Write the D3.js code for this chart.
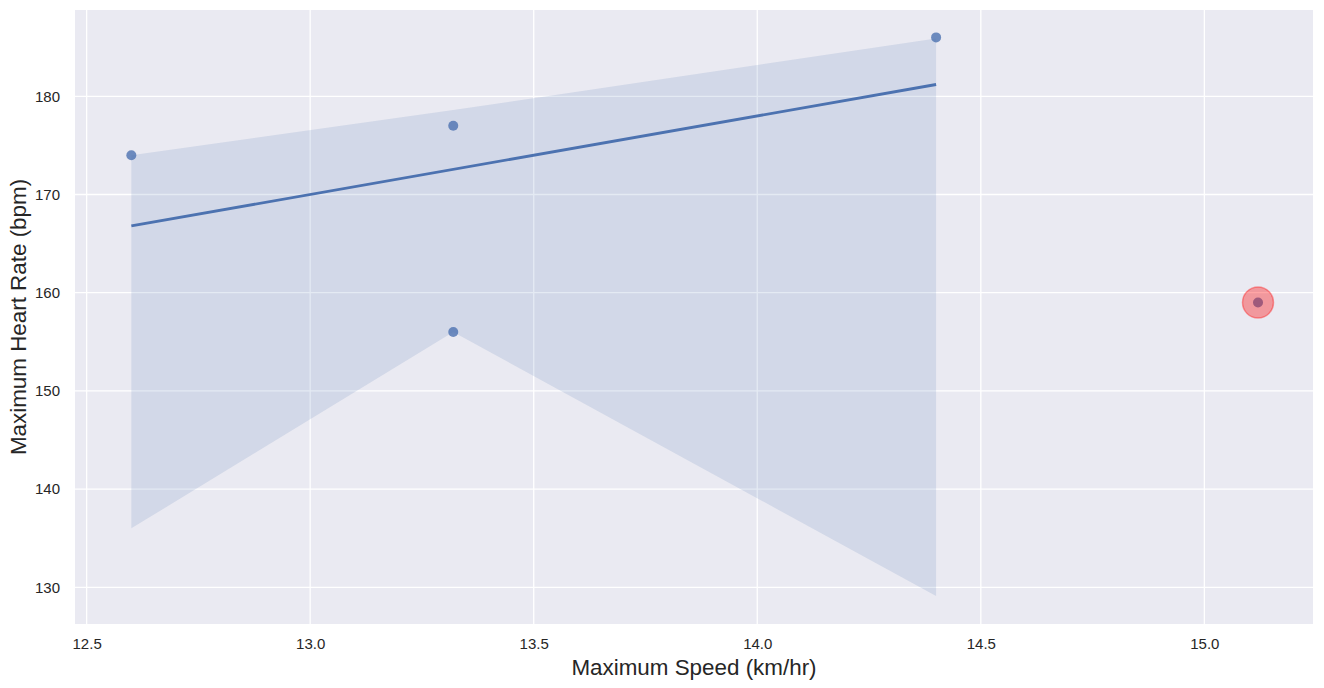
<!DOCTYPE html>
<html>
<head>
<meta charset="utf-8">
<script src="https://cdn.jsdelivr.net/npm/d3@7"></script>
<style>
  body { margin: 0; background: #fff; }
  text { font-family: "Liberation Sans", Arial, sans-serif; fill: #262626; }
</style>
</head>
<body>
<svg class="chart"></svg>
<script>
const width = 1324
const height = 688
const margin = { top: 10, right: 11, bottom: 64, left: 75 }

// observations
const speeds = [12.6, 13.32, 13.32, 14.4]
const heartRates = [174, 177, 156, 186]
// highlighted observation
const highlightSpeed = [15.12]
const highlightHr = [159]
// fitted line ends
const fitX = [12.6, 14.4]
const fitY = [166.8, 181.2]
// confidence band
const ciX = [12.6, 13.32, 14.4]
const ciLow = [136.0, 156.0, 129.1]
const ciHigh = [174.0, 178.6, 185.9]

const xTicks = [12.5, 13.0, 13.5, 14.0, 14.5, 15.0]
const yTicks = [130, 140, 150, 160, 170, 180]

const blue = '#4c72b0'

const x = d3.scaleLinear()
  .domain([12.474, 15.243])
  .range([margin.left, width - margin.right])

const y = d3.scaleLinear()
  .domain([126.26, 188.79])
  .range([height - margin.bottom, margin.top])

const svg = d3.select('.chart')
  .attr('width', width)
  .attr('height', height)

svg.append('rect')
  .attr('x', margin.left)
  .attr('y', margin.top)
  .attr('width', width - margin.left - margin.right)
  .attr('height', height - margin.top - margin.bottom)
  .attr('fill', '#eaeaf2')

// grid
svg.append('g')
  .attr('stroke', '#fff')
  .attr('stroke-width', 1.3)
  .call(g => g.selectAll('.vx')
    .data(xTicks)
    .join('line')
    .attr('x1', d => x(d)).attr('x2', d => x(d))
    .attr('y1', margin.top).attr('y2', height - margin.bottom))
  .call(g => g.selectAll('.hy')
    .data(yTicks)
    .join('line')
    .attr('x1', margin.left).attr('x2', width - margin.right)
    .attr('y1', d => y(d)).attr('y2', d => y(d)))

// axes
svg.append('g')
  .attr('transform', `translate(0,${height - margin.bottom})`)
  .call(d3.axisBottom(x).tickValues(xTicks).tickFormat(d3.format('.1f')).tickSize(0).tickPadding(14))
  .call(g => g.select('.domain').remove())
  .call(g => g.selectAll('text').attr('font-size', 15).attr('font-family', null).attr('fill', '#262626'))

svg.append('g')
  .attr('transform', `translate(${margin.left},0)`)
  .call(d3.axisLeft(y).tickValues(yTicks).tickSize(0).tickPadding(15))
  .call(g => g.select('.domain').remove())
  .call(g => g.selectAll('text').attr('font-size', 15).attr('font-family', null).attr('fill', '#262626'))

svg.append('text')
  .attr('x', (margin.left + width - margin.right) / 2)
  .attr('y', 675)
  .attr('text-anchor', 'middle')
  .attr('font-size', 22.4)
  .text('Maximum Speed (km/hr)')

svg.append('text')
  .attr('transform', `translate(26,${(margin.top + height - margin.bottom) / 2}) rotate(-90)`)
  .attr('text-anchor', 'middle')
  .attr('font-size', 22.4)
  .text('Maximum Heart Rate (bpm)')

// confidence band
const band = d3.area()
  .x((d, i) => x(ciX[i]))
  .y0((d, i) => y(ciLow[i]))
  .y1((d, i) => y(ciHigh[i]))

svg.append('path')
  .attr('d', band(ciX))
  .attr('fill', blue)
  .attr('fill-opacity', 0.15)

// points
svg.append('g')
  .selectAll('circle')
  .data(speeds.map((s, i) => [s, heartRates[i]]).concat(highlightSpeed.map((s, i) => [s, highlightHr[i]])))
  .join('circle')
  .attr('cx', d => x(d[0]))
  .attr('cy', d => y(d[1]))
  .attr('r', 5)
  .attr('fill', blue)
  .attr('fill-opacity', 0.8)

// fitted line
svg.append('path')
  .attr('d', d3.line().x((d, i) => x(fitX[i])).y((d, i) => y(fitY[i]))(fitX))
  .attr('fill', 'none')
  .attr('stroke', blue)
  .attr('stroke-width', 2.9)

// highlight
svg.append('g')
  .selectAll('circle')
  .data(highlightSpeed.map((s, i) => [s, highlightHr[i]]))
  .join('circle')
  .attr('cx', d => x(d[0]))
  .attr('cy', d => y(d[1]))
  .attr('r', 15.5)
  .attr('fill', '#ff0000')
  .attr('fill-opacity', 0.35)
  .attr('stroke', '#ff0000')
  .attr('stroke-opacity', 0.35)
  .attr('stroke-width', 1.5)
</script>
</body>
</html>
